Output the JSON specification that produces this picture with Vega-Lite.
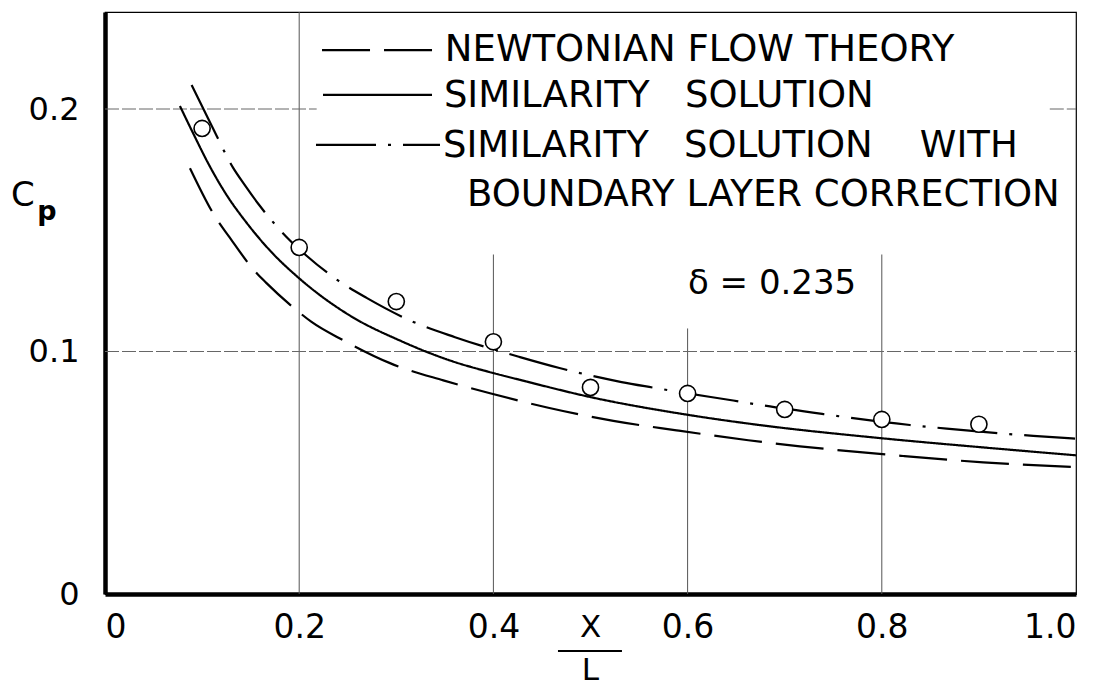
{
  "$schema": "https://vega.github.io/schema/vega-lite/v6.json",
  "width": 971,
  "height": 582,
  "autosize": {"type": "none"},
  "padding": {"left": 105, "top": 12, "right": 26, "bottom": 93},
  "background": "white",
  "config": {
    "view": {"stroke": "black", "strokeWidth": 1.2},
    "font": "DejaVu Sans",
    "axis": {
      "grid": false,
      "ticks": false,
      "tickSize": 0,
      "domainColor": "black",
      "domainWidth": 4.5,
      "labelColor": "black",
      "labelFont": "DejaVu Sans",
      "title": null
    }
  },
  "datasets": {
    "curves": [
      {"series": "newtonian", "part": "curve", "x": 0.0875, "y": 0.1756},
      {"series": "newtonian", "part": "curve", "x": 0.115, "y": 0.1546},
      {"series": "newtonian", "part": "curve", "x": 0.127, "y": 0.1478},
      {"series": "newtonian", "part": "curve", "x": 0.1555, "y": 0.1326},
      {"series": "newtonian", "part": "curve", "x": 0.1658, "y": 0.1284},
      {"series": "newtonian", "part": "curve", "x": 0.1974, "y": 0.117},
      {"series": "newtonian", "part": "curve", "x": 0.2127, "y": 0.1122},
      {"series": "newtonian", "part": "curve", "x": 0.2455, "y": 0.1046},
      {"series": "newtonian", "part": "curve", "x": 0.2935, "y": 0.0952},
      {"series": "newtonian", "part": "curve", "x": 0.3484, "y": 0.0881},
      {"series": "newtonian", "part": "curve", "x": 0.3965, "y": 0.0828},
      {"series": "newtonian", "part": "curve", "x": 0.4565, "y": 0.0768},
      {"series": "newtonian", "part": "curve", "x": 0.5235, "y": 0.0714},
      {"series": "newtonian", "part": "curve", "x": 0.5886, "y": 0.0675},
      {"series": "newtonian", "part": "curve", "x": 0.6625, "y": 0.0634},
      {"series": "newtonian", "part": "curve", "x": 0.7157, "y": 0.0609},
      {"series": "newtonian", "part": "curve", "x": 0.748, "y": 0.0596},
      {"series": "newtonian", "part": "curve", "x": 0.822, "y": 0.0569},
      {"series": "newtonian", "part": "curve", "x": 0.9045, "y": 0.0543},
      {"series": "newtonian", "part": "curve", "x": 0.997, "y": 0.0524},

      {"series": "similarity", "part": "curve", "x": 0.0772, "y": 0.2012},
      {"series": "similarity", "part": "curve", "x": 0.091, "y": 0.1898},
      {"series": "similarity", "part": "curve", "x": 0.108, "y": 0.1763},
      {"series": "similarity", "part": "curve", "x": 0.1253, "y": 0.1645},
      {"series": "similarity", "part": "curve", "x": 0.1458, "y": 0.1531},
      {"series": "similarity", "part": "curve", "x": 0.17, "y": 0.1416},
      {"series": "similarity", "part": "curve", "x": 0.2008, "y": 0.1299},
      {"series": "similarity", "part": "curve", "x": 0.2523, "y": 0.1148},
      {"series": "similarity", "part": "curve", "x": 0.3038, "y": 0.1045},
      {"series": "similarity", "part": "curve", "x": 0.3553, "y": 0.0963},
      {"series": "similarity", "part": "curve", "x": 0.4, "y": 0.0911},
      {"series": "similarity", "part": "curve", "x": 0.4274, "y": 0.0883},
      {"series": "similarity", "part": "curve", "x": 0.5, "y": 0.0812},
      {"series": "similarity", "part": "curve", "x": 0.6, "y": 0.0739},
      {"series": "similarity", "part": "curve", "x": 0.664, "y": 0.0702},
      {"series": "similarity", "part": "curve", "x": 0.798, "y": 0.0643},
      {"series": "similarity", "part": "curve", "x": 0.9, "y": 0.0606},
      {"series": "similarity", "part": "curve", "x": 1.0, "y": 0.0572},

      {"series": "boundary", "part": "curve", "x": 0.0892, "y": 0.2099},
      {"series": "boundary", "part": "curve", "x": 0.1105, "y": 0.1926},
      {"series": "boundary", "part": "curve", "x": 0.132, "y": 0.1757},
      {"series": "boundary", "part": "curve", "x": 0.144, "y": 0.1686},
      {"series": "boundary", "part": "curve", "x": 0.159, "y": 0.1603},
      {"series": "boundary", "part": "curve", "x": 0.1905, "y": 0.1458},
      {"series": "boundary", "part": "curve", "x": 0.2076, "y": 0.1395},
      {"series": "boundary", "part": "curve", "x": 0.2403, "y": 0.1292},
      {"series": "boundary", "part": "curve", "x": 0.2694, "y": 0.1221},
      {"series": "boundary", "part": "curve", "x": 0.3158, "y": 0.1125},
      {"series": "boundary", "part": "curve", "x": 0.3605, "y": 0.1059},
      {"series": "boundary", "part": "curve", "x": 0.4274, "y": 0.0977},
      {"series": "boundary", "part": "curve", "x": 0.468, "y": 0.0932},
      {"series": "boundary", "part": "curve", "x": 0.532, "y": 0.0874},
      {"series": "boundary", "part": "curve", "x": 0.5647, "y": 0.0851},
      {"series": "boundary", "part": "curve", "x": 0.6, "y": 0.0827},
      {"series": "boundary", "part": "curve", "x": 0.647, "y": 0.0798},
      {"series": "boundary", "part": "curve", "x": 0.671, "y": 0.0782},
      {"series": "boundary", "part": "curve", "x": 0.745, "y": 0.0739},
      {"series": "boundary", "part": "curve", "x": 0.767, "y": 0.0727},
      {"series": "boundary", "part": "curve", "x": 0.829, "y": 0.0697},
      {"series": "boundary", "part": "curve", "x": 0.8668, "y": 0.0682},
      {"series": "boundary", "part": "curve", "x": 0.927, "y": 0.0661},
      {"series": "boundary", "part": "curve", "x": 0.956, "y": 0.0652},
      {"series": "boundary", "part": "curve", "x": 0.999, "y": 0.0641},

      {"series": "newtonian", "part": "key", "x": 0.2235, "y": 0.2243},
      {"series": "newtonian", "part": "key", "x": 0.342, "y": 0.2243},
      {"series": "similarity", "part": "key", "x": 0.2245, "y": 0.2058},
      {"series": "similarity", "part": "key", "x": 0.3368, "y": 0.2058},
      {"series": "boundary", "part": "key", "x": 0.2173, "y": 0.1852},
      {"series": "boundary", "part": "key", "x": 0.345, "y": 0.1852}
    ],
    "measured": [
      {"x": 0.1, "y": 0.192},
      {"x": 0.2, "y": 0.1429},
      {"x": 0.3, "y": 0.1206},
      {"x": 0.4, "y": 0.104},
      {"x": 0.5, "y": 0.0852},
      {"x": 0.6, "y": 0.0827},
      {"x": 0.7, "y": 0.0761},
      {"x": 0.8, "y": 0.072},
      {"x": 0.9, "y": 0.07}
    ],
    "gridV": [
      {"x": 0.2, "y": 0, "y2": 0.24},
      {"x": 0.4, "y": 0, "y2": 0.14},
      {"x": 0.6, "y": 0, "y2": 0.1095},
      {"x": 0.8, "y": 0, "y2": 0.14}
    ],
    "gridH": [
      {"y": 0.1, "x": 0, "x2": 1.0},
      {"y": 0.2, "x": 0, "x2": 0.218},
      {"y": 0.2, "x": 0.973, "x2": 1.0}
    ],
    "keyText": [
      {"x": 0.35, "y": 0.2243, "text": "NEWTONIAN FLOW THEORY"},
      {"x": 0.349, "y": 0.2053, "text": "SIMILARITY\u00a0\u00a0 SOLUTION"},
      {"x": 0.348, "y": 0.1848, "text": "SIMILARITY\u00a0\u00a0 SOLUTION\u00a0\u00a0\u00a0 WITH"},
      {"x": 0.3728, "y": 0.1646, "text": "BOUNDARY LAYER CORRECTION"}
    ]
  },
  "layer": [
    {
      "data": {"name": "gridV"},
      "mark": {"type": "rule", "color": "#555", "strokeWidth": 1},
      "encoding": {
        "x": {"field": "x", "type": "quantitative", "scale": {"domain": [0, 1], "nice": false, "zero": false},
              "axis": {"values": [0, 0.2, 0.4, 0.6, 0.8, 1.0], "labelFontSize": 33, "labelPadding": 17,
                       "labelExpr": "datum.value === 0 ? '0' : format(datum.value, '.1f')"}, "title": null},
        "y": {"field": "y", "type": "quantitative", "scale": {"domain": [0, 0.24], "nice": false, "zero": false},
              "axis": {"values": [0, 0.1, 0.2], "labelFontSize": 32, "labelPadding": 26, "labelBaseline": "middle",
                       "labelExpr": "datum.value === 0 ? '0' : format(datum.value, '.1f')"}, "title": null},
        "y2": {"field": "y2"}
      }
    },
    {
      "data": {"name": "gridH"},
      "mark": {"type": "rule", "color": "#666", "strokeWidth": 1, "strokeDash": [14, 3]},
      "encoding": {
        "y": {"field": "y", "type": "quantitative", "title": null},
        "x": {"field": "x", "type": "quantitative", "title": null},
        "x2": {"field": "x2"}
      }
    },
    {
      "data": {"name": "curves"},
      "mark": {"type": "line", "color": "black", "strokeWidth": 2.2, "interpolate": "monotone"},
      "encoding": {
        "x": {"field": "x", "type": "quantitative", "title": null},
        "y": {"field": "y", "type": "quantitative", "title": null},
        "detail": {"field": "part"},
        "strokeDash": {"field": "series", "type": "nominal", "legend": null,
                       "scale": {"domain": ["newtonian", "similarity", "boundary"],
                                 "range": [[48, 14], [1, 0], [60, 12, 3, 12]]}}
      }
    },
    {
      "data": {"name": "measured"},
      "mark": {"type": "point", "shape": "circle", "filled": false, "fill": "white", "fillOpacity": 1,
               "stroke": "black", "strokeWidth": 1.6, "size": 260, "opacity": 1},
      "encoding": {
        "x": {"field": "x", "type": "quantitative", "title": null},
        "y": {"field": "y", "type": "quantitative", "title": null}
      }
    },
    {
      "data": {"name": "keyText"},
      "mark": {"type": "text", "align": "left", "baseline": "middle", "fontSize": 37, "color": "black"},
      "encoding": {
        "x": {"field": "x", "type": "quantitative", "title": null},
        "y": {"field": "y", "type": "quantitative", "title": null},
        "text": {"field": "text"}
      }
    },
    {
      "data": {"values": [{"x": 0.6004, "y": 0.128, "text": "δ = 0.235"}]},
      "mark": {"type": "text", "align": "left", "baseline": "middle", "fontSize": 34, "color": "black"},
      "encoding": {
        "x": {"field": "x", "type": "quantitative", "title": null},
        "y": {"field": "y", "type": "quantitative", "title": null},
        "text": {"field": "text"}
      }
    },
    {
      "data": {"values": [{"x": -0.0845, "y": 0.1642, "text": "C"}]},
      "mark": {"type": "text", "align": "center", "baseline": "middle", "fontSize": 34, "color": "black"},
      "encoding": {
        "x": {"field": "x", "type": "quantitative", "title": null},
        "y": {"field": "y", "type": "quantitative", "title": null},
        "text": {"field": "text"}
      }
    },
    {
      "data": {"values": [{"x": -0.0598, "y": 0.1575, "text": "p"}]},
      "mark": {"type": "text", "align": "center", "baseline": "middle", "fontSize": 27, "fontWeight": "bold", "color": "black"},
      "encoding": {
        "x": {"field": "x", "type": "quantitative", "title": null},
        "y": {"field": "y", "type": "quantitative", "title": null},
        "text": {"field": "text"}
      }
    },
    {
      "data": {"values": [{"x": 0.5, "y": -0.0142, "text": "X"}, {"x": 0.5, "y": -0.0317, "text": "L"}]},
      "mark": {"type": "text", "align": "center", "baseline": "middle", "fontSize": 31, "color": "black"},
      "encoding": {
        "x": {"field": "x", "type": "quantitative", "title": null},
        "y": {"field": "y", "type": "quantitative", "title": null},
        "text": {"field": "text"}
      }
    },
    {
      "data": {"values": [{"x": 0.4665, "x2": 0.5324, "y": -0.0235}]},
      "mark": {"type": "rule", "color": "black", "strokeWidth": 2},
      "encoding": {
        "x": {"field": "x", "type": "quantitative", "title": null},
        "x2": {"field": "x2"},
        "y": {"field": "y", "type": "quantitative", "title": null}
      }
    }
  ]
}
